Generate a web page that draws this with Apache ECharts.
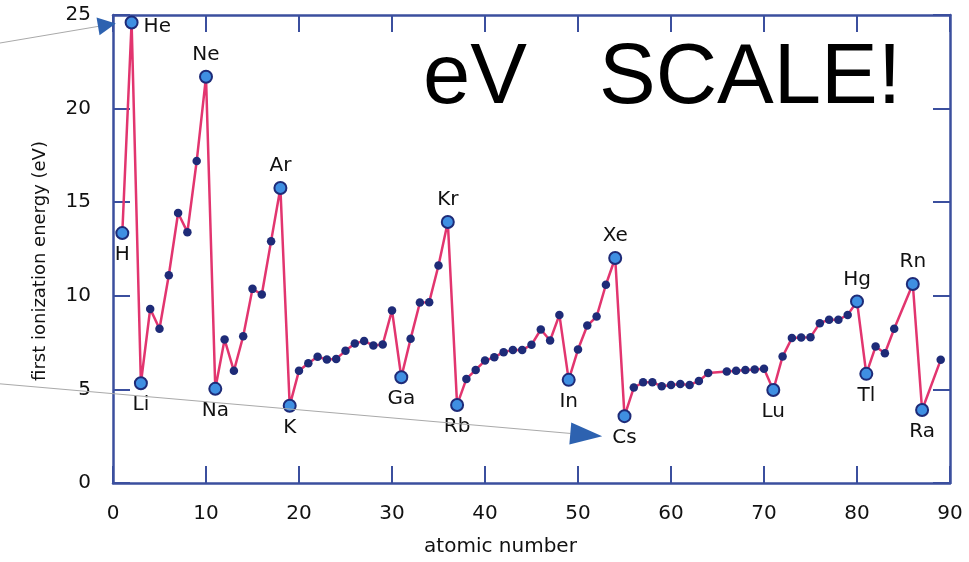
<!DOCTYPE html>
<html>
<head>
<meta charset="utf-8">
<script src="https://cdn.jsdelivr.net/npm/echarts@6/dist/echarts.min.js"></script>
<style>
  html, body { margin: 0; padding: 0; background: #fff; }
  #chart { width: 969px; height: 562px; }
</style>
</head>
<body>
<div id="chart"></div>
<script>
// =====================
// data
// =====================

// Tb (65), At (85) and Fr are not plotted in the original
const atomicNumbers = [
  1, 2, 3, 4, 5, 6, 7, 8, 9, 10,
  11, 12, 13, 14, 15, 16, 17, 18, 19, 20,
  21, 22, 23, 24, 25, 26, 27, 28, 29, 30,
  31, 32, 33, 34, 35, 36, 37, 38, 39, 40,
  41, 42, 43, 44, 45, 46, 47, 48, 49, 50,
  51, 52, 53, 54, 55, 56, 57, 58, 59, 60,
  61, 62, 63, 64, 66, 67, 68, 69, 70,
  71, 72, 73, 74, 75, 76, 77, 78, 79, 80,
  81, 82, 83, 84, 86, 87, 89,
];

const energies = [
  13.35, 24.6, 5.33, 9.3, 8.24, 11.1, 14.42, 13.4, 17.2, 21.7,
  5.03, 7.66, 5.99, 7.84, 10.37, 10.07, 12.92, 15.76, 4.13, 6.0,
  6.4, 6.74, 6.6, 6.63, 7.06, 7.45, 7.59, 7.34, 7.4, 9.22,
  5.65, 7.7, 9.64, 9.66, 11.62, 13.94, 4.17, 5.56, 6.04, 6.54,
  6.72, 6.99, 7.11, 7.11, 7.38, 8.2, 7.61, 8.98, 5.51, 7.13,
  8.41, 8.89, 10.59, 12.02, 3.57, 5.1, 5.38, 5.38, 5.17, 5.24,
  5.29, 5.24, 5.45, 5.87, 5.95, 6.0, 6.03, 6.06, 6.1,
  4.97, 6.76, 7.74, 7.77, 7.79, 8.54, 8.72, 8.72, 8.98, 9.7,
  5.83, 7.29, 6.93, 8.24, 10.63, 3.9, 6.58,
];

// labelled elements, keyed by plotted atomic number
const symbols = {
  1: "H", 2: "He", 3: "Li", 10: "Ne", 11: "Na", 18: "Ar", 19: "K",
  31: "Ga", 36: "Kr", 37: "Rb", 49: "In", 54: "Xe", 55: "Cs",
  71: "Lu", 80: "Hg", 81: "Tl", 86: "Rn", 87: "Ra",
};

const labelsAbove = ["Ne", "Ar", "Kr", "Xe", "Hg", "Rn"];
const labelsRight = ["He"];

const xTicks = [0, 90, 10];
const yTicks = [0, 25, 5];

// annotation arrows, in data units: [from, to]
const arrows = [
  [[-12.2, 23.5], [0.3, 24.55]],
  [[-12.2, 5.3], [52.6, 2.5]],
];

// =====================
// styles
// =====================

const axisColor = "#3b4f9e";
const lineColor = "#e2356f";
const dotColor = "#1e2b78";
const bigDotColor = "#3f8fe2";
const textFont = "DejaVu Sans";

// =====================
// chart
// =====================

const chart = echarts.init(document.getElementById("chart"));

function buildData() {
  return atomicNumbers.map((z, i) => {
    const sym = symbols[z];
    if (!sym) {
      return {
        value: [z, energies[i]],
        symbolSize: 8.5,
        itemStyle: { color: dotColor },
      };
    }
    let position = "bottom";
    let offset = [0, 0];
    if (labelsAbove.includes(sym)) position = "top";
    if (labelsRight.includes(sym)) {
      position = "right";
      offset = [0, 4];
    }
    return {
      value: [z, energies[i]],
      symbolSize: 12,
      itemStyle: { color: bigDotColor, borderColor: dotColor, borderWidth: 2 },
      label: {
        show: true,
        formatter: sym,
        position: position,
        distance: 5,
        offset: offset,
        fontFamily: textFont,
        fontSize: 20,
        color: "#111",
      },
    };
  });
}

function sideAxis(type, pos, range) {
  return {
    type: "value",
    position: pos,
    min: range[0],
    max: range[1],
    interval: range[2],
    axisLine: { show: true, onZero: false, lineStyle: { color: axisColor, width: 2.5 } },
    axisTick: { show: true, inside: true, length: 17, lineStyle: { color: axisColor, width: 2 } },
    axisLabel: { show: false },
    splitLine: { show: false },
  };
}

chart.setOption({
  animation: false,
  backgroundColor: "#fff",

  grid: {
    left: 113,
    right: 19,
    top: 15,
    bottom: 78,
  },

  xAxis: [
    {
      type: "value",
      position: "bottom",
      min: xTicks[0],
      max: xTicks[1],
      interval: xTicks[2],
      name: "atomic number",
      nameLocation: "middle",
      nameGap: 54,
      nameTextStyle: {
        fontFamily: textFont,
        fontSize: 20,
        color: "#111",
        padding: [0, 62, 0, 0],
      },
      axisLine: { show: true, onZero: false, lineStyle: { color: axisColor, width: 2.5 } },
      axisTick: { show: true, inside: true, length: 17, lineStyle: { color: axisColor, width: 2 } },
      axisLabel: { margin: 21, fontFamily: textFont, fontSize: 20, color: "#111" },
      splitLine: { show: false },
    },
    sideAxis("x", "top", xTicks),
  ],

  yAxis: [
    {
      type: "value",
      position: "left",
      min: yTicks[0],
      max: yTicks[1],
      interval: yTicks[2],
      name: "first ionization energy (eV)",
      nameLocation: "middle",
      nameGap: 64,
      nameTextStyle: {
        fontFamily: textFont,
        fontSize: 18,
        color: "#111",
        padding: [0, 24, 0, 0],
      },
      axisLine: { show: true, onZero: false, lineStyle: { color: axisColor, width: 2.5 } },
      axisTick: { show: true, inside: true, length: 17, lineStyle: { color: axisColor, width: 2 } },
      axisLabel: { margin: 22, fontFamily: textFont, fontSize: 20, color: "#111" },
      splitLine: { show: false },
    },
    sideAxis("y", "right", yTicks),
  ],

  series: [
    {
      type: "line",
      data: buildData(),
      symbol: "circle",
      clip: false,
      lineStyle: { color: lineColor, width: 2.5 },
      z: 3,
    },
  ],
});

// =====================
// overlays: arrows + "eV SCALE!"
// =====================

function arrowElements(from, to, len, half) {
  const a = chart.convertToPixel({ gridIndex: 0 }, from);
  const b = chart.convertToPixel({ gridIndex: 0 }, to);
  const dx = b[0] - a[0];
  const dy = b[1] - a[1];
  const l = Math.hypot(dx, dy);
  const ux = dx / l;
  const uy = dy / l;
  const bx = b[0] - ux * len;
  const by = b[1] - uy * len;
  return [
    {
      type: "line",
      shape: { x1: a[0], y1: a[1], x2: bx, y2: by },
      style: { stroke: "#a9a9a9", lineWidth: 1 },
      z: 10,
    },
    {
      type: "polygon",
      shape: {
        points: [
          [b[0], b[1]],
          [bx - uy * half, by + ux * half],
          [bx + uy * half, by - ux * half],
        ],
      },
      style: { fill: "#2d62b0" },
      z: 10,
    },
  ];
}

const graphics = [];
graphics.push(...arrowElements(arrows[0][0], arrows[0][1], 18, 9));
graphics.push(...arrowElements(arrows[1][0], arrows[1][1], 32, 11));

graphics.push({
  type: "text",
  x: 423,
  y: 80,
  style: {
    text: "eV",
    font: "85px 'Liberation Sans'",
    fill: "#000",
    textAlign: "left",
    textVerticalAlign: "middle",
  },
  z: 10,
});
graphics.push({
  type: "text",
  x: 599,
  y: 80,
  style: {
    text: "SCALE!",
    font: "85px 'Liberation Sans'",
    fill: "#000",
    textAlign: "left",
    textVerticalAlign: "middle",
  },
  z: 10,
});

chart.setOption({ graphic: graphics });
</script>
</body>
</html>
